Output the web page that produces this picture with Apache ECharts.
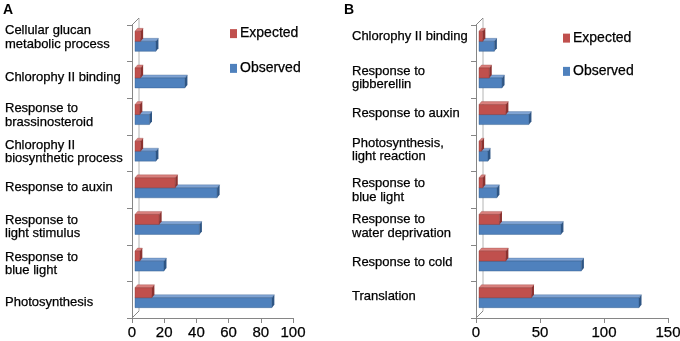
<!DOCTYPE html>
<html>
<head>
<meta charset="utf-8">
<script src="https://cdn.jsdelivr.net/npm/echarts@6/dist/echarts.min.js"></script>
<style>
  html, body { margin: 0; padding: 0; background: #fff; }
  #chart { width: 680px; height: 341px; }
</style>
</head>
<body>
<div id="chart"></div>
<script>
  // panel A
  const catsA = [
    'Cellular glucan\nmetabolic process',
    'Chlorophy II binding',
    'Response to\nbrassinosteroid',
    'Chlorophy II\nbiosynthetic process',
    'Response to auxin',
    'Response to\nlight stimulus',
    'Response to\nblue light',
    'Photosynthesis'
  ]
  const expectedA = [3.5, 3.5, 3, 3.5, 25, 15, 3, 10.5]
  const observedA = [13, 31, 9, 13, 51, 40, 18, 85]
  const ticksA = [0, 20, 40, 60, 80, 100]

  // panel B
  const catsB = [
    'Chlorophy II binding',
    'Response to\ngibberellin',
    'Response to auxin',
    'Photosynthesis,\nlight reaction',
    'Response to\nblue light',
    'Response to\nwater deprivation',
    'Response to cold',
    'Translation'
  ]
  const expectedB = [3, 8, 21, 2, 3, 16, 21, 41]
  const observedB = [12, 18, 39, 7, 14, 64, 80, 125]
  const ticksB = [0, 50, 100, 150]

  const FONT = 'Arial, "Liberation Sans", sans-serif'
  const AXIS = '#868686'
  const RED = { front: '#c0504d', top: '#d9807d', side: '#8c3230' }
  const BLUE = { front: '#4f81bd', top: '#7fa3d3', side: '#2e5584' }
  const INK = { textBorderColor: '#000', textBorderWidth: 0.25 }

  // floor rect of each panel (front edge of the 3d box)
  const boxA = { left: 132, top: 25, width: 161, height: 293 }
  const boxB = { left: 476, top: 25, width: 192, height: 293 }
  const DEPTH = 7
  // how far each category label sits above its band centre (px), like excel put them
  const liftA = [6, 2.5, 1, 1.5, 2.5, -0.5, -1, -2.5]
  const liftB = [7, 2, 3, 3.5, -0.5, 0, 0.5, 3]

  // 3d bar: front face + top face + right side cap
  function bar3d(colors, upper) {
    return function (params, api) {
      const v = api.value(0)
      const cat = api.value(1)
      const p0 = api.coord([0, cat])
      const p1 = api.coord([v, cat])
      const band = api.size([0, 1])[1]
      const h = band * 0.273
      const cy = p0[1] - 2
      const x0 = p0[0] + 3
      const x1 = p1[0] + 3
      const y0 = upper ? cy - h : cy
      const y1 = y0 + h
      const dx = 2.5, dy = 3
      return {
        type: 'group',
        children: [
          {
            type: 'polygon',
            shape: { points: [[x0, y0], [x1, y0], [x1 + dx, y0 - dy], [x0 + dx, y0 - dy]] },
            style: { fill: colors.top, stroke: colors.side, lineWidth: 0.3 }
          },
          {
            type: 'rect',
            shape: { x: x0, y: y0, width: x1 - x0, height: h },
            style: { fill: colors.front, stroke: colors.side, lineWidth: 0.4 }
          },
          {
            type: 'polygon',
            shape: { points: [[x1, y0], [x1 + dx, y0 - dy], [x1 + dx, y1 - dy], [x1, y1]] },
            style: { fill: colors.side }
          }
        ]
      }
    }
  }

  function pairs(values) {
    return values.map((v, i) => [v, i])
  }

  function xAxisFor(grid, ticks) {
    return {
      type: 'value',
      gridIndex: grid,
      min: ticks[0],
      max: ticks[ticks.length - 1],
      interval: ticks[1] - ticks[0],
      axisLine: { show: true, lineStyle: { color: AXIS } },
      axisTick: { show: true, length: 5, lineStyle: { color: AXIS } },
      axisLabel: Object.assign({ fontSize: 15, color: '#000', fontFamily: FONT, margin: 7 }, INK),
      splitLine: { show: false }
    }
  }

  function yAxisFor(grid, cats, lift, margin) {
    const rich = { t: Object.assign({ fontSize: 13, lineHeight: 13.5, color: '#000', fontFamily: FONT }, INK) }
    // a blank spacer line below (or above) the text nudges the label block up (or down)
    lift.forEach((L, i) => {
      rich['up' + i] = { fontSize: 1, lineHeight: Math.max(1, L * 2) }
      rich['dn' + i] = { fontSize: 1, lineHeight: Math.max(1, -L * 2) }
    })
    return {
      type: 'category',
      gridIndex: grid,
      data: cats,
      inverse: true,
      axisLine: { show: true, lineStyle: { color: AXIS } },
      axisTick: { show: true, length: 5, lineStyle: { color: AXIS } },
      axisLabel: {
        interval: 0,
        margin: margin,
        align: 'left',
        formatter: function (value, i) {
          const body = value.split('\n').map(s => '{t|' + s + '}').join('\n')
          if (lift[i] > 0) return body + '\n{up' + i + '|\u00a0}'
          if (lift[i] < 0) return '{dn' + i + '|\u00a0}\n' + body
          return body
        },
        rich: rich
      }
    }
  }

  function boxLines(box) {
    const L = box.left, T = box.top, B = box.top + box.height
    const st = { stroke: AXIS, lineWidth: 1 }
    return [
      { type: 'line', shape: { x1: L + DEPTH, y1: T - DEPTH, x2: L + DEPTH, y2: B - DEPTH }, style: { stroke: '#b4b4b4', lineWidth: 1 }, z: 0 },
      { type: 'line', shape: { x1: L, y1: T, x2: L + DEPTH, y2: T - DEPTH }, style: st, z: 0 },
      { type: 'line', shape: { x1: L, y1: B, x2: L + DEPTH, y2: B - DEPTH }, style: st, z: 0 }
    ]
  }

  function legendFor(left, top, gap) {
    return {
      orient: 'vertical',
      left: left,
      top: top,
      itemWidth: 7,
      itemHeight: 9,
      itemGap: gap,
      icon: 'rect',
      padding: 0,
      data: ['Expected', 'Observed'],
      textStyle: Object.assign({ fontSize: 14, lineHeight: 14, color: '#000', fontFamily: FONT, padding: [0, 0, 0, -2] }, INK)
    }
  }

  const chart = echarts.init(document.getElementById('chart'))
  chart.setOption({
    animation: false,
    backgroundColor: '#fff',
    title: [
      { text: 'A', left: 3, top: 3, padding: 0, textStyle: { fontSize: 14, fontWeight: 'bold', color: '#000', fontFamily: FONT } },
      { text: 'B', left: 344, top: 3, padding: 0, textStyle: { fontSize: 14, fontWeight: 'bold', color: '#000', fontFamily: FONT } }
    ],
    legend: [legendFor(230, 26.5, 20.5), legendFor(563, 31, 19)],
    grid: [
      Object.assign({ containLabel: false, outerBoundsMode: 'none' }, boxA),
      Object.assign({ containLabel: false, outerBoundsMode: 'none' }, boxB)
    ],
    xAxis: [xAxisFor(0, ticksA), xAxisFor(1, ticksB)],
    yAxis: [
      yAxisFor(0, catsA, liftA, boxA.left - 5),
      yAxisFor(1, catsB, liftB, boxB.left - 352)
    ],
    graphic: boxLines(boxA).concat(boxLines(boxB)),
    series: [
      {
        name: 'Observed', type: 'custom', xAxisIndex: 0, yAxisIndex: 0, z: 2,
        itemStyle: { color: BLUE.front },
        encode: { x: 0, y: 1 },
        renderItem: bar3d(BLUE, false),
        data: pairs(observedA)
      },
      {
        name: 'Expected', type: 'custom', xAxisIndex: 0, yAxisIndex: 0, z: 3,
        itemStyle: { color: RED.front },
        encode: { x: 0, y: 1 },
        renderItem: bar3d(RED, true),
        data: pairs(expectedA)
      },
      {
        name: 'Observed', type: 'custom', xAxisIndex: 1, yAxisIndex: 1, z: 2,
        itemStyle: { color: BLUE.front },
        encode: { x: 0, y: 1 },
        renderItem: bar3d(BLUE, false),
        data: pairs(observedB)
      },
      {
        name: 'Expected', type: 'custom', xAxisIndex: 1, yAxisIndex: 1, z: 3,
        itemStyle: { color: RED.front },
        encode: { x: 0, y: 1 },
        renderItem: bar3d(RED, true),
        data: pairs(expectedB)
      }
    ]
  })
</script>
</body>
</html>
